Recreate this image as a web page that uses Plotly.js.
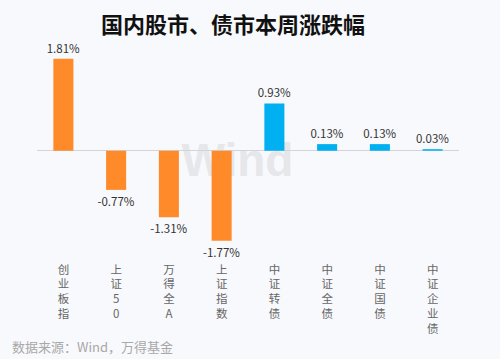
<!DOCTYPE html>
<html>
<head>
<meta charset="utf-8">
<script src="https://cdn.plot.ly/plotly-3.0.1.min.js"></script>
<style>
html,body{margin:0;padding:0;background:#f8f9fc;}
#chart{width:500px;height:359px;}
</style>
</head>
<body>
<div id="chart"></div>
<script>
// ---- data ----
const categories = ['创业板指', '上证50', '万得全A', '上证指数', '中证转债', '中证全债', '中证国债', '中证企业债'];
const tickLabels = ['创<br>业<br>板<br>指', '上<br>证<br>5<br>0', '万<br>得<br>全<br>A', '上<br>证<br>指<br>数', '中<br>证<br>转<br>债', '中<br>证<br>全<br>债', '中<br>证<br>国<br>债', '中<br>证<br>企<br>业<br>债'];
const weeklyChange = [1.81, -0.77, -1.31, -1.77, 0.93, 0.13, 0.13, 0.03];
const marketType = ['股市', '股市', '股市', '股市', '债市', '债市', '债市', '债市'];

const colorFor = {'股市': '#ff8a2a', '债市': '#00b0f0'};
const FONT = '"Noto Sans CJK SC", "Noto Sans", sans-serif';

const trace = {
  type: 'bar',
  x: categories,
  y: weeklyChange,
  width: 0.38,
  marker: {color: marketType.map(t => colorFor[t])},
  texttemplate: '%{y:.2f}%',
  textposition: 'outside',
  constraintext: 'none',
  textfont: {family: FONT, size: 11.5, color: '#333'},
  cliponaxis: false,
  hoverinfo: 'x+y'
};

const layout = {
  width: 500,
  height: 359,
  paper_bgcolor: '#f8f9fc',
  plot_bgcolor: '#f8f9fc',
  margin: {l: 37, r: 41, t: 49, b: 104},
  showlegend: false,
  font: {family: FONT},
  title: {
    text: '<b>国内股市、债市本周涨跌幅</b>',
    font: {family: FONT, size: 22, color: '#111'},
    x: 0.466, xref: 'container', xanchor: 'center',
    y: 0.93, yref: 'container', yanchor: 'middle'
  },
  xaxis: {
    type: 'category',
    tickmode: 'array',
    tickvals: categories,
    ticktext: tickLabels,
    tickfont: {family: FONT, size: 11.5, color: '#666'},
    ticks: '',
    ticklabelstandoff: 6,
    showline: false,
    showgrid: false,
    zeroline: false,
    fixedrange: true
  },
  yaxis: {
    range: [-2.05, 2.0],
    showticklabels: false,
    showgrid: false,
    zeroline: true,
    zerolinecolor: '#d4d4d8',
    zerolinewidth: 1,
    fixedrange: true
  },
  shapes: [{
    type: 'rect', layer: 'below',
    xref: 'paper', yref: 'y',
    x0: 0.34, x1: 0.61, y0: -0.52, y1: 0.32,
    line: {width: 0}, fillcolor: 'rgba(0,0,0,0)',
    label: {text: '<b>Wind</b>', font: {family: 'Liberation Sans, Arial, sans-serif', size: 46, color: '#e5e7eb'}, textposition: 'middle center'}
  }],
  annotations: [{
    text: '数据来源：Wind，万得基金',
    xref: 'paper', yref: 'paper',
    x: -0.064, xanchor: 'left',
    y: -0.442, yanchor: 'middle',
    showarrow: false,
    font: {family: FONT, size: 13, color: '#a8a8a8'}
  }]
};

Plotly.newPlot('chart', [trace], layout, {displayModeBar: false, staticPlot: true});
</script>
</body>
</html>
